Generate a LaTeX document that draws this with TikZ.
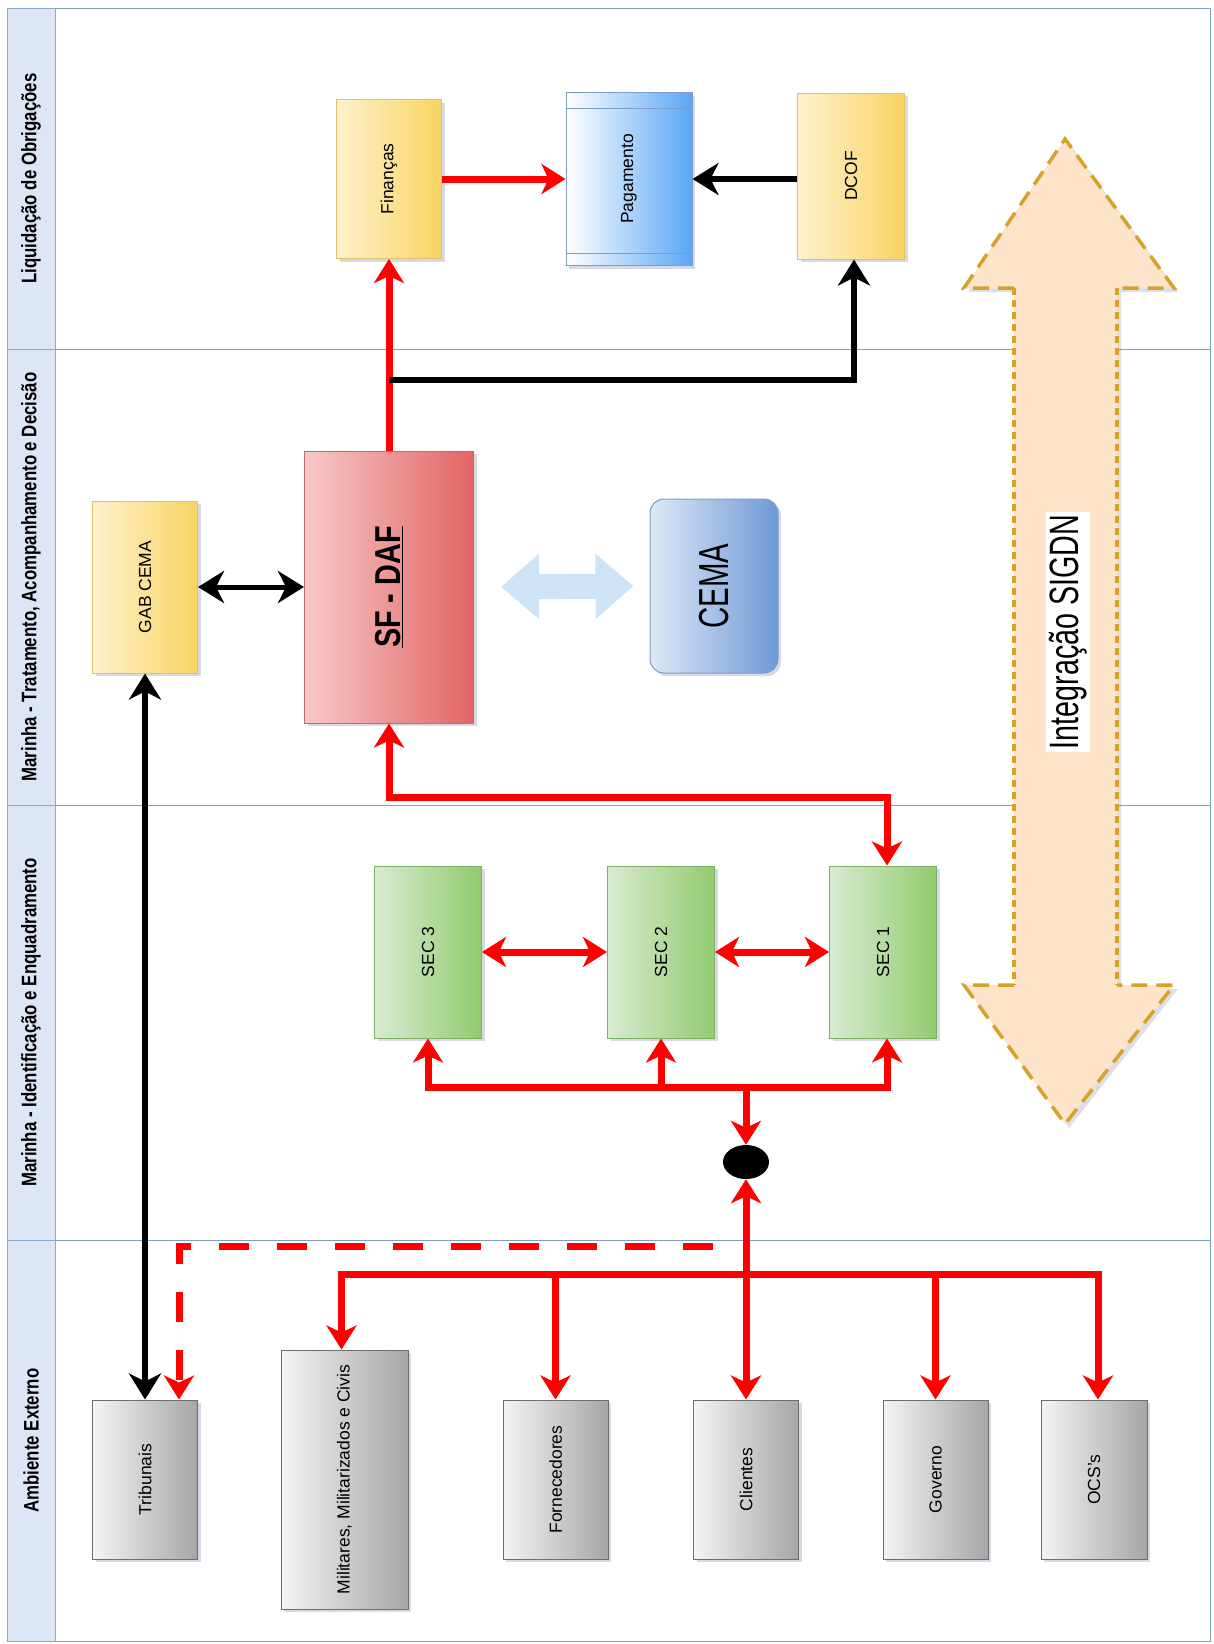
\documentclass[tikz,border=0pt]{standalone}
\usepackage{fontspec}
\setmainfont{Liberation Sans}
\newfontfamily\narrowsans{Liberation Sans}[FakeStretch=0.8]
\newfontfamily\condsans{Liberation Sans}[FakeStretch=0.7]
\usepackage{tikz}
\usetikzlibrary{arrows.meta,shapes.geometric,shadows}

\definecolor{amarelaL}{HTML}{FEF1CD}
\definecolor{amarelaR}{HTML}{F9D462}
\definecolor{amarelaB}{HTML}{E0C169}
\definecolor{azulR}{HTML}{5AA7F5}
\definecolor{azulB}{HTML}{7C9DC9}
\definecolor{vermelhaL}{HTML}{F7C9C9}
\definecolor{vermelhaR}{HTML}{E26464}
\definecolor{vermelhaB}{HTML}{C46A6A}
\definecolor{cemaL}{HTML}{DEE8F7}
\definecolor{cemaR}{HTML}{6E99D6}
\definecolor{cemaB}{HTML}{7F9CC8}
\definecolor{verdeL}{HTML}{D9EBD3}
\definecolor{verdeR}{HTML}{92CB6D}
\definecolor{verdeB}{HTML}{7FAF66}
\definecolor{cinzaL}{HTML}{F4F4F4}
\definecolor{cinzaR}{HTML}{A6A6A6}
\definecolor{cinzaB}{HTML}{6E6E6E}
\definecolor{faixaF}{HTML}{DCE6F5}
\definecolor{faixaB}{HTML}{8EA8D2}
\definecolor{cLinha}{HTML}{7F9DCA}
\definecolor{cSeta}{HTML}{CFE3F7}
\definecolor{cOuro}{HTML}{D6A22A}
\definecolor{cPessego}{HTML}{FDE4CA}
\definecolor{cSombra}{HTML}{8C96B4}

\begin{document}
\begin{tikzpicture}[x=1pt, y=-1pt,
  vp/.tip={Stealth[length=24pt, width=30pt, inset=7pt]},
  bp/.tip={Stealth[length=26pt, width=32pt, inset=8pt]},
  box/.style={draw, rectangle, line width=1pt, inner sep=0pt,
    font=\fontsize{17.5}{20}\selectfont,
    drop shadow={shadow xshift=3pt, shadow yshift=-3pt, opacity=0.35, fill=cSombra}},
  amarela/.style={box, draw=amarelaB, left color=amarelaL, right color=amarelaR},
  azul/.style={box, draw=azulB, left color=white, right color=azulR},
  vermelha/.style={box, draw=vermelhaB, left color=vermelhaL, right color=vermelhaR},
  cema/.style={box, rounded corners=14pt, draw=cemaB, left color=cemaL, right color=cemaR},
  verde/.style={box, draw=verdeB, left color=verdeL, right color=verdeR},
  cinza/.style={box, draw=cinzaB, left color=cinzaL, right color=cinzaR},
  faixa/.style={draw=faixaB, fill=faixaF, line width=0.8pt, minimum width=48pt,
    inner sep=0pt, font=\narrowsans\bfseries\fontsize{21}{24}\selectfont},
  borda/.style={cOuro, line width=3.5pt},
  rlin/.style={draw=red, line width=7pt},
  rarr/.style={rlin, -vp},
  rdup/.style={rlin, vp-vp},
  barr/.style={draw=black, line width=6pt, -bp},
  bdup/.style={draw=black, line width=6pt, bp-bp}]

  \useasboundingbox (0,0) rectangle (1213,1644);

  % Moldura e faixas
  \draw[cLinha, line width=0.8pt] (7,8) rectangle (1210,1641);
  \foreach \y in {349,805,1240} {
    \draw[cLinha, line width=1pt] (7,\y) -- (1210,\y);
  }
  \node[faixa, minimum height=341pt] (f1) at (31,178.5) {\rotatebox{90}{Liquidação de Obrigações}};
  \node[faixa, minimum height=456pt] (f2) at (31,577) {\rotatebox{90}{Marinha - Tratamento, Acompanhamento e Decisão}};
  \node[faixa, minimum height=435pt] (f3) at (31,1022.5) {\rotatebox{90}{Marinha - Identificação e Enquadramento}};
  \node[faixa, minimum height=401pt] (f4) at (31,1440.5) {\rotatebox{90}{Ambiente Externo}};

  % Integracao SIGDN
  \fill[cPessego, drop shadow={shadow xshift=4pt, shadow yshift=-4pt, opacity=0.3, fill=cSombra}]
    (1065,139) -- (1174,288) -- (1117,288) -- (1117,985) -- (1174,985) -- (1065,1124)
    -- (964,985) -- (1014,985) -- (1014,288) -- (964,288) -- cycle;
  \draw[borda, dash pattern=on 16pt off 9pt] (1014,288) -- (964,288) -- (1065,139) -- (1174,288) -- (1117,288);
  \draw[borda, dash pattern=on 16pt off 9pt] (1014,985) -- (964,985) -- (1065,1124) -- (1174,985) -- (1117,985);
  \draw[borda, dash pattern=on 7pt off 5pt] (1014,288) -- (1014,985);
  \draw[borda, dash pattern=on 7pt off 5pt] (1117,288) -- (1117,985);
  \node[fill=white, inner sep=3pt, font=\condsans\fontsize{41}{44}\selectfont] (sigdn) at (1068,632) {\rotatebox{90}{Integração SIGDN}};

  % Liquidacao de Obrigacoes
  \node[amarela, minimum width=105pt, minimum height=159pt] (fin) at (389,179) {\rotatebox{90}{Finanças}};
  \node[azul, minimum width=126pt, minimum height=173pt] (pag) at (629,179) {\rotatebox{90}{Pagamento}};
  \node[amarela, minimum width=107pt, minimum height=166pt] (dcof) at (851,176) {\rotatebox{90}{DCOF}};
  \draw[azulB, line width=1pt] ([yshift=-16pt]pag.north west) -- ([yshift=-16pt]pag.north east);
  \draw[azulB, line width=1pt] ([yshift=13pt]pag.south west) -- ([yshift=13pt]pag.south east);

  % Tratamento e decisao
  \node[amarela, minimum width=105pt, minimum height=172pt] (gab) at (145,587) {\rotatebox{90}{GAB CEMA}};
  \node[vermelha, minimum width=169pt, minimum height=272pt, font=\narrowsans\bfseries\fontsize{36}{40}\selectfont] (sfdaf) at (389,587) {\rotatebox{90}{\underline{SF - DAF}}};
  \node[cema, minimum width=128pt, minimum height=174pt, font=\condsans\fontsize{42}{44}\selectfont] (cemab) at (714,586) {\rotatebox{90}{CEMA}};

  % Identificacao e enquadramento
  \node[verde, minimum width=107pt, minimum height=172pt] (sec3) at (428,952) {\rotatebox{90}{SEC 3}};
  \node[verde, minimum width=107pt, minimum height=172pt] (sec2) at (661,952) {\rotatebox{90}{SEC 2}};
  \node[verde, minimum width=107pt, minimum height=172pt] (sec1) at (883,952) {\rotatebox{90}{SEC 1}};
  \node[ellipse, fill=black, minimum width=46pt, minimum height=34pt, inner sep=0pt] (jun) at (746,1162) {};

  % Ambiente externo
  \node[cinza, minimum width=105pt, minimum height=159pt] (trib) at (145,1479.5) {\rotatebox{90}{Tribunais}};
  \node[cinza, minimum width=127pt, minimum height=259pt] (mil) at (344.5,1479.5) {\rotatebox{90}{Militares, Militarizados e Civis}};
  \node[cinza, minimum width=105pt, minimum height=159pt] (forn) at (555.5,1479.5) {\rotatebox{90}{Fornecedores}};
  \node[cinza, minimum width=105pt, minimum height=159pt] (cli) at (746,1479.5) {\rotatebox{90}{Clientes}};
  \node[cinza, minimum width=105pt, minimum height=159pt] (gov) at (935.5,1479.5) {\rotatebox{90}{Governo}};
  \node[cinza, minimum width=106pt, minimum height=159pt] (ocs) at (1094,1479.5) {\rotatebox{90}{OCS's}};

  % Ligacoes
  \draw[rarr] (fin) -- (pag);
  \draw[barr] (dcof.west |- pag) -- (pag.east);
  \draw[rarr] (sfdaf.north) -- (fin.south);
  \coordinate (desvio) at (389,380);
  \draw[barr] (desvio) -| ([xshift=3pt]dcof.south);
  \draw[draw=black, line width=5pt, bp-bp] (gab.east) -- (sfdaf.west);
  \draw[cSeta, line width=25pt, {Triangle[length=38pt, width=63pt]}-{Triangle[length=38pt, width=63pt]},
    shorten <=27pt, shorten >=16pt] (sfdaf.east) -- (cemab.west);
  \draw[bdup] (gab.south) -- (trib.north);
  \draw[rdup] (sfdaf.south) -- ++(0,74) -| ([xshift=4pt]sec1.north);
  \draw[rdup] (sec3) -- (sec2);
  \draw[rdup] (sec2) -- (sec1);

  % Barramento dos SEC
  \coordinate (bus) at (746,1087);
  \draw[rarr] (bus) -| (sec3.south);
  \draw[rarr] (bus) -| ([xshift=4pt]sec1.south);
  \draw[rarr] (sec2.south |- bus) -- (sec2.south);
  \draw[rarr] (bus) -- (jun.north);

  % Barramento externo
  \coordinate (ext) at (746,1274);
  \draw[rarr] (ext) -| ([xshift=-3pt]mil.north);
  \draw[rarr] (ext) -| ([xshift=4pt]ocs.north);
  \draw[rarr] (forn.north |- ext) -- (forn.north);
  \draw[rarr] (gov.north |- ext) -- (gov.north);
  \draw[rdup] (jun.south) -- (cli.north);
  \coordinate (trac) at (713,1246);
  \draw[rarr, dash pattern=on 30pt off 28pt] (trac) -| ([xshift=34pt]trib.north);
\end{tikzpicture}
\end{document}
